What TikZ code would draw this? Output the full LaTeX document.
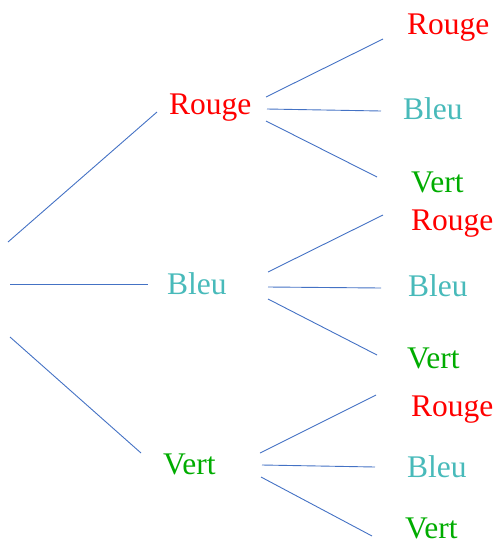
\documentclass[tikz,border=0pt]{standalone}
\usepackage{fontspec}
\setmainfont{Liberation Serif}
\definecolor{lineblue}{RGB}{68,114,196}
\definecolor{rougec}{RGB}{255,0,0}
\definecolor{bleuc}{RGB}{72,186,186}
\definecolor{vertc}{RGB}{0,172,0}
\begin{document}
\begin{tikzpicture}[x=1pt,y=-1pt,
  lbl/.style={anchor=base west,inner sep=0pt,font=\fontsize{31.5}{31.5}\selectfont},
  rg/.style={lbl,text=rougec},
  bl/.style={lbl,text=bleuc},
  vt/.style={lbl,text=vertc},
  edge/.style={draw=lineblue,line width=0.9pt}]
\useasboundingbox (0,0) rectangle (497,544);
% level 1 labels
\node[rg] (R) at (169,114) {Rouge};
\node[bl] (B) at (167,294) {Bleu};
\node[vt] (V) at (163,474) {Vert};
% level 2 labels
\node[rg] (RR) at (407,34) {Rouge};
\node[bl] (RB) at (403,119) {Bleu};
\node[vt] (RV) at (411,192) {Vert};
\node[rg] (BR) at (411,230) {Rouge};
\node[bl] (BB) at (408,296) {Bleu};
\node[vt] (BV) at (407,368) {Vert};
\node[rg] (VR) at (411,416) {Rouge};
\node[bl] (VB) at (407,477) {Bleu};
\node[vt] (VV) at (405,538) {Vert};
% root lines
\coordinate (r1) at (8,242);   \coordinate (r1e) at (157,112);
\coordinate (r2) at (10,284);  \coordinate (r2e) at (148,284);
\coordinate (r3) at (10,337);  \coordinate (r3e) at (141,453);
\draw[edge] (r1) -- (r1e);
\draw[edge] (r2) -- (r2e);
\draw[edge] (r3) -- (r3e);
% from Rouge
\coordinate (a1) at (266,97);  \coordinate (a1e) at (383,39);
\coordinate (a2) at (267,109); \coordinate (a2e) at (381,111);
\coordinate (a3) at (266,121); \coordinate (a3e) at (377,177);
\draw[edge] (a1) -- (a1e);
\draw[edge] (a2) -- (a2e);
\draw[edge] (a3) -- (a3e);
% from Bleu
\coordinate (b1) at (268,272); \coordinate (b1e) at (383,215);
\coordinate (b2) at (268,287); \coordinate (b2e) at (381,288);
\coordinate (b3) at (268,299); \coordinate (b3e) at (377,355);
\draw[edge] (b1) -- (b1e);
\draw[edge] (b2) -- (b2e);
\draw[edge] (b3) -- (b3e);
% from Vert
\coordinate (c1) at (260,453); \coordinate (c1e) at (376,395);
\coordinate (c2) at (262,465); \coordinate (c2e) at (375,467);
\coordinate (c3) at (261,477); \coordinate (c3e) at (372,536);
\draw[edge] (c1) -- (c1e);
\draw[edge] (c2) -- (c2e);
\draw[edge] (c3) -- (c3e);
\end{tikzpicture}
\end{document}
